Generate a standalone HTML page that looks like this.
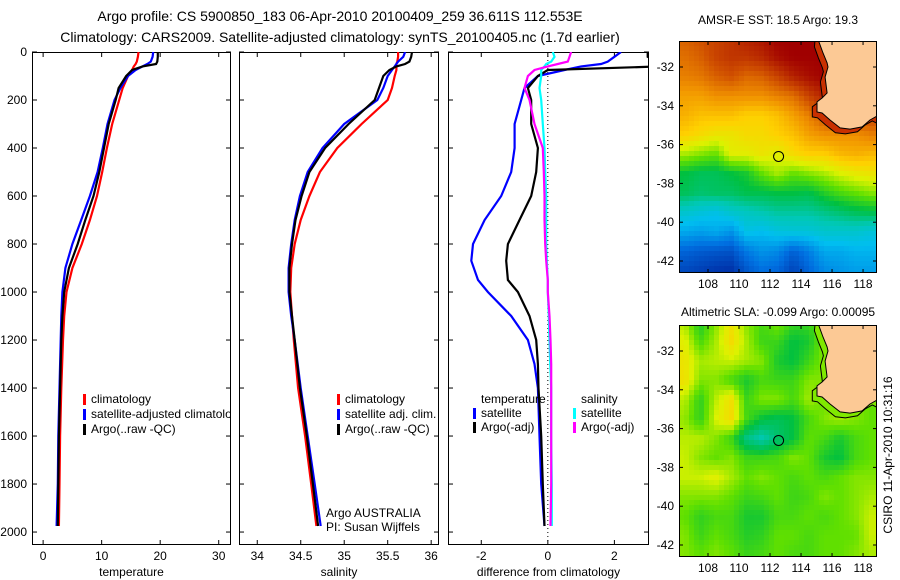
<!DOCTYPE html>
<html><head><meta charset="utf-8">
<style>
html,body{margin:0;padding:0;background:#fff;}
svg{display:block;font-family:"Liberation Sans",sans-serif;}
</style></head>
<body>
<svg id="fig" width="900" height="580" viewBox="0 0 900 580" xmlns="http://www.w3.org/2000/svg">
<text x="340" y="21" font-size="14" text-anchor="middle">Argo profile: CS 5900850_183 06-Apr-2010 20100409_259 36.611S 112.553E</text>
<text x="340" y="42" font-size="14" text-anchor="middle">Climatology: CARS2009. Satellite-adjusted climatology: synTS_20100405.nc (1.7d earlier)</text>
<text x="778" y="24" font-size="12" text-anchor="middle">AMSR-E SST: 18.5 Argo: 19.3</text>
<text x="778" y="316" font-size="12" text-anchor="middle">Altimetric SLA: -0.099 Argo: 0.00095</text>
<text transform="translate(892,455) rotate(-90)" font-size="12" text-anchor="middle">CSIRO 11-Apr-2010 10:31:16</text>
<g id="layer"></g>
</svg>
<script>
// ---------- profile data ----------
const depthTS = [0,20,40,50,60,75,100,150,200,300,400,500,600,700,800,900,1000,1100,1200,1400,1600,1800,1975];
const tempClim = [16.3,16.2,16,15.8,15.5,15.2,14.5,13.6,13.0,11.8,10.9,10.1,9.2,8.0,6.6,5.0,4.0,3.6,3.4,3.1,2.9,2.8,2.7];
const tempSat = [18.8,18.7,18.4,17.8,17,15.8,14.5,13.2,12.2,11.0,10.2,9.3,8.0,6.5,5.0,3.8,3.3,3.1,3.0,2.8,2.6,2.5,2.3];
const tempArgo = [19.6,19.6,19.5,19.3,17,15.2,14.2,12.9,12.4,11.2,10.4,9.6,8.6,7.2,5.9,4.4,3.6,3.3,3.1,2.9,2.7,2.6,2.5];
const salClim = [35.62,35.62,35.61,35.6,35.6,35.6,35.58,35.55,35.5,35.2,34.92,34.72,34.6,34.5,34.43,34.39,34.38,34.4,34.42,34.47,34.55,34.62,34.68];
const salSat = [35.7,35.68,35.62,35.6,35.58,35.55,35.5,35.45,35.38,35.0,34.75,34.58,34.49,34.43,34.39,34.36,34.36,34.39,34.43,34.5,34.58,34.66,34.73];
const salArgo = [35.78,35.77,35.75,35.7,35.6,35.52,35.45,35.4,35.35,35.05,34.78,34.6,34.51,34.44,34.4,34.37,34.37,34.4,34.43,34.49,34.57,34.64,34.7];
const depthD = [0,20,40,50,60,75,100,150,200,300,400,500,600,700,800,870,950,1000,1100,1200,1300,1400,1600,1800,1975];
const dTempSat = [2.2,2.0,1.8,1.6,1.0,0.5,-0.3,-0.7,-0.8,-1.0,-1.0,-1.1,-1.4,-1.9,-2.25,-2.3,-2.1,-1.8,-1.1,-0.6,-0.4,-0.3,-0.25,-0.2,-0.1];
const dTempArgo = [3.0,3.0,3.3,3.5,3.4,0.0,-0.3,-0.6,-0.5,-0.5,-0.3,-0.35,-0.5,-0.85,-1.2,-1.25,-1.2,-0.9,-0.55,-0.35,-0.3,-0.28,-0.2,-0.15,-0.1];
const dSalSat = [0.15,0.2,0.1,-0.05,-0.1,-0.2,-0.2,-0.25,-0.2,-0.15,-0.1,-0.08,-0.05,-0.05,-0.05,-0.03,0,0,0.03,0.05,0.07,0.1,0.1,0.12,0.12];
const dSalArgo = [0.7,0.65,0.6,0.3,0.0,-0.4,-0.6,-0.7,-0.55,-0.4,-0.15,-0.12,-0.1,-0.1,-0.08,-0.05,0,0,0.05,0.08,0.1,0.1,0.1,0.1,0.08];
const depthTicks = [0,200,400,600,800,1000,1200,1400,1600,1800,2000];
const tempTicks = [0,10,20,30];
const salTicks = [34,34.5,35,35.5,36];
const salTickLabels = ["34","34.5","35","35.5","36"];
const diffTicks = [-2,0,2];
// ---------- map data (lat rows x lon cols) ----------
const mapLons = [106.5,107.5,108.5,109.5,110.5,111.5,112.5,113.5,114.5,115.5,116.5,117.5,118.5];
const mapLats = [-30.5,-31.5,-32.5,-33.5,-34.5,-35.5,-36.5,-37.5,-38.5,-39.5,-40.5,-41.5,-42.5];
const sstGrid = [
[0.86,0.88,0.9,0.92,0.95,0.97,1,1,1,1,1,1,1],
[0.84,0.86,0.9,0.92,0.92,0.94,0.98,1,1,1,1,1,1],
[0.82,0.83,0.86,0.88,0.85,0.86,0.9,0.95,0.98,1,1,1,1],
[0.78,0.78,0.8,0.8,0.8,0.8,0.82,0.84,0.9,0.95,0.97,1,1],
[0.76,0.74,0.74,0.74,0.72,0.72,0.74,0.78,0.82,0.88,0.9,0.9,0.9],
[0.72,0.7,0.68,0.68,0.7,0.7,0.72,0.74,0.78,0.8,0.8,0.8,0.82],
[0.62,0.6,0.58,0.66,0.66,0.68,0.66,0.7,0.72,0.72,0.75,0.76,0.75],
[0.5,0.48,0.48,0.5,0.52,0.58,0.62,0.58,0.6,0.62,0.65,0.67,0.68],
[0.48,0.46,0.47,0.47,0.49,0.49,0.5,0.5,0.49,0.53,0.56,0.58,0.6],
[0.36,0.34,0.32,0.36,0.38,0.4,0.42,0.42,0.42,0.44,0.46,0.48,0.49],
[0.26,0.24,0.26,0.22,0.32,0.3,0.33,0.34,0.34,0.36,0.36,0.36,0.34],
[0.13,0.11,0.1,0.09,0.17,0.22,0.2,0.12,0.18,0.26,0.26,0.28,0.28],
[0.07,0.05,0.03,0.02,0.1,0.15,0.13,0.06,0.13,0.2,0.22,0.24,0.24]];
const slaGrid = [
[0.62,0.52,0.6,0.68,0.6,0.56,0.6,0.55,0.55,0.6,0.58,0.58,0.58],
[0.66,0.56,0.62,0.7,0.62,0.55,0.55,0.5,0.52,0.6,0.58,0.58,0.58],
[0.68,0.62,0.63,0.64,0.62,0.6,0.52,0.5,0.55,0.6,0.58,0.58,0.58],
[0.69,0.6,0.6,0.56,0.52,0.56,0.55,0.55,0.6,0.6,0.58,0.58,0.58],
[0.63,0.54,0.63,0.69,0.55,0.6,0.6,0.56,0.62,0.58,0.6,0.6,0.58],
[0.61,0.54,0.65,0.7,0.56,0.5,0.48,0.5,0.56,0.6,0.62,0.6,0.58],
[0.63,0.63,0.6,0.55,0.44,0.4,0.46,0.5,0.58,0.56,0.52,0.56,0.58],
[0.64,0.6,0.58,0.6,0.55,0.55,0.56,0.6,0.58,0.52,0.5,0.56,0.58],
[0.64,0.64,0.66,0.62,0.58,0.6,0.58,0.56,0.58,0.56,0.58,0.6,0.6],
[0.6,0.6,0.6,0.58,0.55,0.56,0.58,0.55,0.56,0.6,0.58,0.6,0.62],
[0.58,0.54,0.56,0.56,0.52,0.52,0.56,0.56,0.58,0.56,0.58,0.6,0.64],
[0.6,0.55,0.58,0.56,0.53,0.54,0.58,0.58,0.56,0.58,0.58,0.58,0.64],
[0.6,0.58,0.6,0.58,0.55,0.56,0.58,0.56,0.56,0.58,0.58,0.6,0.62]];
const coastLon = [115.16,115.42,115.68,115.74,115.55,115.68,115.36,115.03,115.03,115.36,115.87,116.52,117.16,117.94,118.45,118.9];
const coastLat = [-30.71,-31.28,-31.79,-32.0,-32.52,-33.34,-33.6,-33.8,-34.32,-34.37,-34.73,-35.14,-35.2,-35.09,-34.73,-34.53];
const argoLon = 112.553, argoLat = -36.611;
const mapLonTicks = [108,110,112,114,116,118];
const mapLatTicks = [-32,-34,-36,-38,-40,-42];

const NS = "http://www.w3.org/2000/svg";
const root = document.getElementById('layer');
function mk(tag, attrs, parent){
  const e = document.createElementNS(NS, tag);
  for (const k in attrs) e.setAttribute(k, attrs[k]);
  (parent||root).appendChild(e);
  return e;
}
function lin(d0,d1,r0,r1){ return v => r0 + (v-d0)/(d1-d0)*(r1-r0); }

const PT = 52, PB = 545;
const yDepth = lin(0, 2054, PT, PB);

function panel(name, x0, x1, xs, ticks, labels, xlabel, leftLabels){
  const g = mk('g', {});
  
  
  const cp = mk('clipPath', {id: 'clip-'+name}, g);
  mk('rect', {x:x0, y:PT, width:x1-x0, height:PB-PT}, cp);
  const frame = mk('rect', {x:x0+0.5, y:PT+0.5, width:x1-x0-1, height:PB-PT-1, fill:'none', stroke:'#000', 'stroke-width':1}, g);
  
  
  ticks.forEach((t,i)=>{
    const x = xs(t);
    mk('line', {x1:x, x2:x, y1:PB, y2:PB-5, stroke:'#000'}, g);
    mk('line', {x1:x, x2:x, y1:PT, y2:PT+5, stroke:'#000'}, g);
    const tl = mk('text', {x:x, y:PB+15, 'font-size':12, 'text-anchor':'middle'}, g);
    tl.textContent = labels[i];
    
    
  });
  depthTicks.forEach(d=>{
    const y = yDepth(d);
    mk('line', {x1:x0, x2:x0+5, y1:y, y2:y, stroke:'#000'}, g);
    mk('line', {x1:x1, x2:x1-5, y1:y, y2:y, stroke:'#000'}, g);
    if (leftLabels){
      const tl = mk('text', {x:x0-5, y:y+4, 'font-size':12, 'text-anchor':'end'}, g);
      tl.textContent = d;
      
      
    }
  });
  const xl = mk('text', {x:(x0+x1)/2, y:PB+31, 'font-size':12, 'text-anchor':'middle'}, g);
  xl.textContent = xlabel;
  
  
  return g;
}
function profile(g, name, clip, xs, vals, depths, color){
  const pts = vals.map((v,i)=> xs(v).toFixed(1)+','+yDepth(depths[i]).toFixed(1)).join(' ');
  const p = mk('polyline', {points:pts, fill:'none', stroke:color, 'stroke-width':2.2, 'clip-path':'url(#clip-'+clip+')'}, g);
  
  
}
function legend(g, x, y, color, label, name){
  if (color){
    const m = mk('rect', {x:x, y:y-9, width:3, height:11, fill:color}, g);
    
    
  }
  const t = mk('text', {x:x+8, y:y, 'font-size':12}, g);
  t.textContent = label;
  
  
}

const xT = lin(-1.9, 32.1, 32, 231);
const g1 = panel('temperature-panel', 32, 231, xT, tempTicks, tempTicks.map(String), 'temperature', true);
profile(g1, 'temp-climatology-line', 'temperature-panel', xT, tempClim, depthTS, '#ff0000');
profile(g1, 'temp-satellite-line', 'temperature-panel', xT, tempSat, depthTS, '#0000ff');
profile(g1, 'temp-argo-line', 'temperature-panel', xT, tempArgo, depthTS, '#000000');
const lg1 = mk('g', {'clip-path':'url(#clip-temperature-panel)'}, g1);
legend(lg1, 83, 403, '#ff0000', 'climatology', 'legend-climatology');
legend(lg1, 83, 418, '#0000ff', 'satellite-adjusted climatology', 'legend-satellite-adjusted');
legend(lg1, 83, 433, '#000000', 'Argo(..raw -QC)', 'legend-argo-raw');

const xS = lin(33.79, 36.09, 239, 439);
const g2 = panel('salinity-panel', 239, 439, xS, salTicks, salTickLabels, 'salinity', false);
profile(g2, 'sal-climatology-line', 'salinity-panel', xS, salClim, depthTS, '#ff0000');
profile(g2, 'sal-satellite-line', 'salinity-panel', xS, salSat, depthTS, '#0000ff');
profile(g2, 'sal-argo-line', 'salinity-panel', xS, salArgo, depthTS, '#000000');
legend(g2, 337, 403, '#ff0000', 'climatology', 'legend-sal-climatology');
legend(g2, 337, 418, '#0000ff', 'satellite adj. clim.', 'legend-sal-satellite');
legend(g2, 337, 433, '#000000', 'Argo(..raw -QC)', 'legend-sal-argo');
legend(g2, 318, 517, null, 'Argo AUSTRALIA', 'argo-australia-label');
legend(g2, 318, 531, null, 'PI: Susan Wijffels', 'pi-label');

const xD = lin(-3.0, 3.04, 448, 649);
const g3 = panel('difference-panel', 448, 649, xD, diffTicks, diffTicks.map(String), 'difference from climatology', false);
const zl = mk('line', {x1:xD(0), x2:xD(0), y1:PT, y2:PB, stroke:'#000', 'stroke-dasharray':'1,3'}, g3);


profile(g3, 'dtemp-satellite-line', 'difference-panel', xD, dTempSat, depthD, '#0000ff');
profile(g3, 'dtemp-argo-line', 'difference-panel', xD, dTempArgo, depthD, '#000000');
profile(g3, 'dsal-satellite-line', 'difference-panel', xD, dSalSat, depthD, '#00ffff');
profile(g3, 'dsal-argo-line', 'difference-panel', xD, dSalArgo, depthD, '#ff00ff');
legend(g3, 473, 403, null, 'temperature', 'legend-temperature-heading');
legend(g3, 473, 417, '#0000ff', 'satellite', 'legend-dtemp-satellite');
legend(g3, 473, 431, '#000000', 'Argo(-adj)', 'legend-dtemp-argo');
legend(g3, 573, 403, null, 'salinity', 'legend-salinity-heading');
legend(g3, 573, 417, '#00ffff', 'satellite', 'legend-dsal-satellite');
legend(g3, 573, 431, '#ff00ff', 'Argo(-adj)', 'legend-dsal-argo');

const cmapStops = [[0,[0,40,160]],[0.15,[0,110,224]],[0.3,[0,190,240]],[0.4,[0,200,180]],[0.5,[0,192,64]],[0.58,[96,224,0]],[0.65,[220,242,0]],[0.72,[255,208,0]],[0.8,[240,144,0]],[0.88,[208,80,0]],[1,[160,0,0]]];
function cmap(v){
  v = Math.max(0, Math.min(1, v));
  for (let i=1;i<cmapStops.length;i++){
    if (v <= cmapStops[i][0]){
      const a = cmapStops[i-1], b = cmapStops[i];
      const f = (v-a[0])/(b[0]-a[0]);
      const c = a[1].map((x,k)=>Math.round(x+(b[1][k]-x)*f));
      return 'rgb('+c.join(',')+')';
    }
  }
  return 'rgb(160,0,0)';
}
function sample(grid, lon, lat){
  let fi = (lon - mapLons[0]) / (mapLons[1]-mapLons[0]);
  let fj = (lat - mapLats[0]) / (mapLats[1]-mapLats[0]);
  fi = Math.max(0, Math.min(mapLons.length-1.0001, fi));
  fj = Math.max(0, Math.min(mapLats.length-1.0001, fj));
  const i = Math.floor(fi), j = Math.floor(fj), a = fi-i, b = fj-j;
  return grid[j][i]*(1-a)*(1-b) + grid[j][i+1]*a*(1-b) + grid[j+1][i]*(1-a)*b + grid[j+1][i+1]*a*b;
}
function drawMap(name, grid, top, bot, shelfFill){
  const L = 679, R = 877;
  const g = mk('g', {});
  
  
  const lonToX = lin(106.13, 118.9, L, R);
  const latToY = lin(-30.66, -30.66 - (bot-top)/19.4, top, bot);
  const xToLon = lin(L, R, 106.13, 118.9);
  const yToLat = lin(top, bot, -30.66, -30.66 - (bot-top)/19.4);
  const cp = mk('clipPath', {id:'clip-'+name}, g);
  mk('rect', {x:L, y:top, width:R-L, height:bot-top}, cp);
  const cells = mk('g', {'clip-path':'url(#clip-'+name+')'}, g);
  
  
  const step = 5;
  for (let y=top; y<bot; y+=step){
    for (let x=L; x<R; x+=step){
      const v = sample(grid, xToLon(x+step/2), yToLat(y+step/2));
      mk('rect', {x:x, y:y, width:step+0.3, height:step+0.3, fill:cmap(v)}, cells);
    }
  }
  const shelf = coastLon.map((lo,i)=> lonToX(lo-0.3).toFixed(1)+','+latToY(coastLat[i]-0.25).toFixed(1));
  const sp = mk('polygon', {points:[lonToX(114.9).toFixed(1)+','+top].concat(shelf).concat([R+','+latToY(-34.9), R+','+top]).join(' '), fill:shelfFill, stroke:'#000', 'stroke-width':1, 'clip-path':'url(#clip-'+name+')'}, g);
  
  
  const land = coastLon.map((lo,i)=> lonToX(lo).toFixed(1)+','+latToY(coastLat[i]).toFixed(1));
  const lp = mk('polygon', {points:[lonToX(115.16).toFixed(1)+','+top].concat(land).concat([R+','+top]).join(' '), fill:'#fcc995', stroke:'#000', 'stroke-width':1, 'clip-path':'url(#clip-'+name+')'}, g);
  
  
  const av = sample(grid, argoLon, argoLat);
  const dot = mk('circle', {cx:lonToX(argoLon), cy:latToY(argoLat), r:5, fill:cmap(av), stroke:'#000', 'stroke-width':1}, g);
  
  
  const fr = mk('rect', {x:L+0.5, y:top+0.5, width:R-L-1, height:bot-top-1, fill:'none', stroke:'#000'}, g);
  
  
  mapLonTicks.forEach(lo=>{
    const x = lonToX(lo);
    mk('line', {x1:x, x2:x, y1:top, y2:top+4, stroke:'#000'}, g);
    mk('line', {x1:x, x2:x, y1:bot, y2:bot-4, stroke:'#000'}, g);
    const t = mk('text', {x:x, y:bot+15, 'font-size':12, 'text-anchor':'middle'}, g);
    t.textContent = lo;
    
    
  });
  mapLatTicks.forEach(la=>{
    const y = latToY(la);
    mk('line', {x1:L, x2:L+4, y1:y, y2:y, stroke:'#000'}, g);
    mk('line', {x1:R, x2:R-4, y1:y, y2:y, stroke:'#000'}, g);
    const t = mk('text', {x:L-5, y:y+4, 'font-size':12, 'text-anchor':'end'}, g);
    t.textContent = la;
    
    
  });
}
drawMap('sst-map', sstGrid, 41, 273, '#c83000');
drawMap('sla-map', slaGrid, 325, 557, '#80e800');
</script>
</body></html>
